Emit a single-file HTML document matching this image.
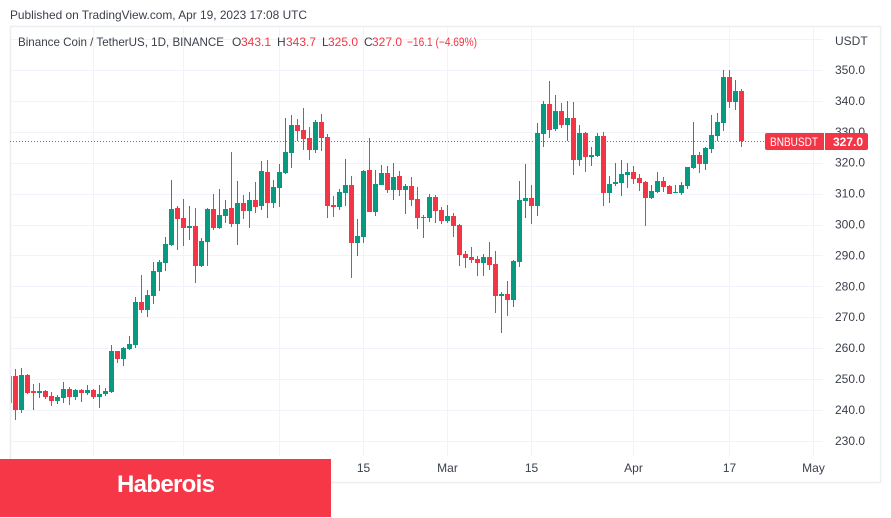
<!DOCTYPE html>
<html lang="en">
<head>
<meta charset="utf-8">
<title>BNBUSDT chart</title>
<style>
html,body{margin:0;padding:0;background:#fff;width:891px;height:518px;overflow:hidden}
svg{display:block;font-family:"Liberation Sans",sans-serif}
</style>
</head>
<body>
<svg id="chart" xmlns="http://www.w3.org/2000/svg" width="891" height="518" viewBox="0 0 891 518">
  <defs><clipPath id="plot-clip"><rect x="10" y="27" width="813" height="429"/></clipPath></defs>
  <rect x="0" y="0" width="891" height="518" fill="#ffffff"/>
  <text x="10" y="19" font-size="12" fill="#3a3f4a" textLength="297" lengthAdjust="spacingAndGlyphs">Published on TradingView.com, Apr 19, 2023 17:08 UTC</text>
  <g id="grid"></g>
  <g id="candles" clip-path="url(#plot-clip)"></g>
  <rect x="10.5" y="26.5" width="870" height="456" fill="none" stroke="#eceef2" stroke-width="1.5"/>
  <g font-size="12">
    <text x="18" y="46" fill="#3a3f4a" textLength="206" lengthAdjust="spacingAndGlyphs">Binance Coin / TetherUS, 1D, BINANCE</text>
    <text x="232" y="46" fill="#3a3f4a">O</text>
    <text x="241" y="46" fill="#f23645">343.1</text>
    <text x="277" y="46" fill="#3a3f4a">H</text>
    <text x="286" y="46" fill="#f23645">343.7</text>
    <text x="322" y="46" fill="#3a3f4a">L</text>
    <text x="328" y="46" fill="#f23645">325.0</text>
    <text x="364" y="46" fill="#3a3f4a">C</text>
    <text x="372" y="46" fill="#f23645">327.0</text>
    <text x="407" y="46" fill="#f23645" textLength="70" lengthAdjust="spacingAndGlyphs">−16.1 (−4.69%)</text>
  </g>
  <text x="835" y="45" font-size="12" fill="#3a3f4a">USDT</text>
  <g id="y-axis"></g>
  <g id="x-axis"></g>
  <g id="last-price"></g>
  <rect x="0" y="459" width="331" height="58" fill="#f63748"/>
  <text x="166" y="492" font-size="24" font-weight="700" fill="#ffffff" text-anchor="middle" textLength="98">Haberois</text>
</svg>
<script>
const opens = [242.1,
251.0,240.0,251.3,246.1,245.5,246.1,244.5,242.9,243.9,246.8,244.2,246.4,245.5,246.4,244.2,245.1,245.8,259.1,256.5,259.7,261.0,274.9,272.3,276.9,284.6,
287.5,293.4,305.3,302.1,298.9,299.5,286.6,294.3,305.0,298.9,302.8,305.3,300.2,307.0,304.4,307.9,306.0,317.0,307.0,311.8,316.7,323.1,332.2,330.6,328.0,324.1,333.2,
328.3,306.3,305.7,310.2,312.8,294.0,296.0,317.6,304.0,312.8,316.7,311.2,315.7,311.2,312.5,308.3,302.1,302.1,308.9,304.7,301.1,302.8,299.8,290.5,289.5,288.8,287.5,289.5,287.2,276.9,277.5,
275.6,287.9,307.6,308.6,306.0,329.3,339.0,330.9,336.7,332.2,334.5,320.9,329.6,321.8,322.2,328.6,310.2,
313.1,313.4,316.0,317.0,315.0,313.8,308.6,310.5,314.1,312.5,310.2,310.2,312.5,318.3,322.5,319.6,324.4,328.6,332.8,347.7,339.6,343.1];
const highs = [251.0,
253.1,253.5,251.5,248.4,248.6,246.4,245.7,244.8,248.9,247.4,246.8,246.8,248.1,246.8,248.1,247.0,261.0,259.1,260.5,263.9,276.5,283.7,278.8,287.9,288.5,
295.9,314.4,306.0,308.2,306.0,305.3,295.6,305.3,309.9,311.5,307.9,323.5,314.1,309.5,310.5,313.8,320.5,320.9,314.4,319.6,334.5,335.4,334.1,337.7,331.6,333.8,335.8,
329.3,309.2,311.5,321.2,315.7,301.8,317.6,328.0,317.6,319.3,318.9,319.9,317.3,313.1,315.4,312.1,303.1,309.9,309.6,305.7,306.3,303.7,300.2,291.4,292.7,289.8,290.5,294.3,291.4,278.2,281.7,
288.5,314.1,319.6,312.8,332.8,340.0,346.4,341.9,339.3,340.0,339.6,332.2,329.9,325.1,329.6,329.9,315.7,
319.9,320.9,319.9,318.9,316.3,314.1,312.8,317.0,315.4,312.8,312.8,313.8,318.6,333.2,323.5,325.1,335.4,336.1,350.0,350.0,346.8,343.7];
const lows = [242.1,
236.7,239.1,245.1,240.0,244.0,243.6,241.3,241.9,242.3,241.6,243.2,242.6,244.8,243.5,240.7,244.5,245.5,255.2,254.2,259.4,260.0,271.3,270.1,274.3,278.5,
284.9,293.0,291.8,293.0,295.0,281.1,286.2,286.6,298.2,298.5,300.5,299.2,293.4,301.8,298.9,303.7,304.7,302.1,305.3,305.7,316.3,318.3,327.0,324.1,320.9,323.1,323.8,
302.1,302.4,304.7,306.0,282.7,289.8,294.0,304.0,302.8,312.8,310.2,307.9,309.2,303.4,306.0,298.5,295.6,300.8,300.5,300.2,300.5,296.0,286.6,285.9,287.5,283.3,283.3,285.3,271.4,264.9,270.4,
273.3,286.2,302.1,300.2,302.8,325.1,328.0,330.3,331.2,327.0,316.0,318.9,317.0,318.9,321.8,306.0,307.0,
312.5,309.2,311.8,313.1,310.8,299.5,308.3,310.2,310.5,309.9,310.2,309.6,311.5,317.9,316.7,317.6,323.1,327.0,330.3,337.7,337.1,325.0];
const closes = [251.0,
240.0,251.3,245.6,245.5,246.1,244.2,242.9,244.2,246.8,244.2,246.4,245.5,246.4,244.2,245.1,246.1,259.1,256.5,260.0,261.3,274.9,272.3,277.2,285.0,287.9,
293.7,305.0,301.8,298.9,299.5,286.6,294.7,305.0,298.9,303.1,305.0,300.2,307.0,304.4,307.9,305.7,317.3,307.0,312.1,317.0,323.5,332.2,330.3,327.7,324.1,333.2,328.0,
306.0,305.7,310.5,312.8,294.0,296.3,317.3,304.0,313.1,316.7,311.2,315.4,311.2,312.5,307.9,302.1,302.4,308.9,304.4,301.1,302.8,299.5,290.1,289.2,288.5,287.5,289.5,286.9,276.9,277.5,275.6,
288.2,307.9,308.6,306.0,329.6,339.0,330.6,336.7,332.2,334.5,320.9,329.6,321.8,322.5,328.6,310.2,313.1,
313.8,316.3,317.0,314.7,313.4,308.6,310.8,314.1,312.1,309.9,310.4,312.8,318.6,322.5,319.6,324.8,329.0,333.2,347.7,339.6,343.2,327.0];

const priceTicks = [230,240,250,260,270,280,290,300,310,320,330,340,350];
const extraGridPrices = [360];
const timeLabels = ["2023","15","Feb","15","Mar","15","Apr","17","May"];
const timeBarIndex = [14,29,45,59,73,87,104,120,134];
const lastPrice = 327.0;
const lastSymbol = "BNBUSDT";

const UP = "#089981";
const DOWN = "#f23645";
const GRID = "#f0f3fa";
const NS = "http://www.w3.org/2000/svg";

function xOf(i){ return Math.floor(9.33 + 6 * i); }
function yOf(p){ return 70 + (350 - p) * 3.09; }

function el(tag, attrs, parent, txt){
  const n = document.createElementNS(NS, tag);
  for (const k in attrs) n.setAttribute(k, attrs[k]);
  if (txt !== undefined) n.textContent = txt;
  parent.appendChild(n);
  return n;
}

const grid = document.getElementById("grid");
const yAxis = document.getElementById("y-axis");
const xAxis = document.getElementById("x-axis");
const candles = document.getElementById("candles");
const lastGroup = document.getElementById("last-price");

priceTicks.concat(extraGridPrices).forEach(function(p){
  const y = Math.round(yOf(p)) + 0.5;
  const line = el("line", {x1:10, x2:823, y1:y, y2:y, stroke:GRID, "stroke-width":1}, grid);
  
  
});
timeBarIndex.forEach(function(i){
  const x = xOf(i) + 0.5;
  const line = el("line", {x1:x, x2:x, y1:27, y2:456, stroke:GRID, "stroke-width":1}, grid);
  
  
});
priceTicks.forEach(function(p){
  const t = el("text", {x:835, y:yOf(p) + 4, "font-size":12, fill:"#3a3f4a"}, yAxis, p.toFixed(1));
  
  
});
timeLabels.forEach(function(label, k){
  const t = el("text", {x:xOf(timeBarIndex[k]) + 0.5, y:472, "font-size":12, fill:"#3a3f4a", "text-anchor":"middle"}, xAxis, label);
  
  
});

opens.forEach(function(o, i){
  const c = closes[i], h = highs[i], l = lows[i];
  const color = c >= o ? UP : DOWN;
  const x = xOf(i);
  const g = el("g", {}, candles);
  
  
  const wt = Math.round(yOf(h)), wb = Math.round(yOf(l));
  const bt = Math.round(yOf(Math.max(o, c))), bb = Math.round(yOf(Math.min(o, c)));
  const wick = el("rect", {x:x, y:wt, width:1, height:Math.max(1, wb - wt), fill:color}, g);
  
  
  const body = el("rect", {x:x - 2, y:bt, width:5, height:Math.max(1, bb - bt), fill:color}, g);
  
  
});

const ly = yOf(lastPrice);
const lastLine = el("line", {x1:10, x2:765, y1:Math.round(ly) + 0.5, y2:Math.round(ly) + 0.5, stroke:DOWN, "stroke-width":1, "stroke-dasharray":"1 2"}, lastGroup);


const tag = el("rect", {x:765, y:Math.round(ly) - 8, width:103, height:17, rx:2, fill:DOWN}, lastGroup);


const sep = el("rect", {x:824, y:Math.round(ly) - 8, width:1, height:17, fill:"#ffffff"}, lastGroup);


const symText = el("text", {x:770, y:Math.round(ly) + 5, "font-size":12, fill:"#ffffff", textLength:48, lengthAdjust:"spacingAndGlyphs"}, lastGroup, lastSymbol);


const priceText = el("text", {x:833, y:Math.round(ly) + 5, "font-size":12, "font-weight":700, fill:"#ffffff"}, lastGroup, lastPrice.toFixed(1));


</script>
</body>
</html>
